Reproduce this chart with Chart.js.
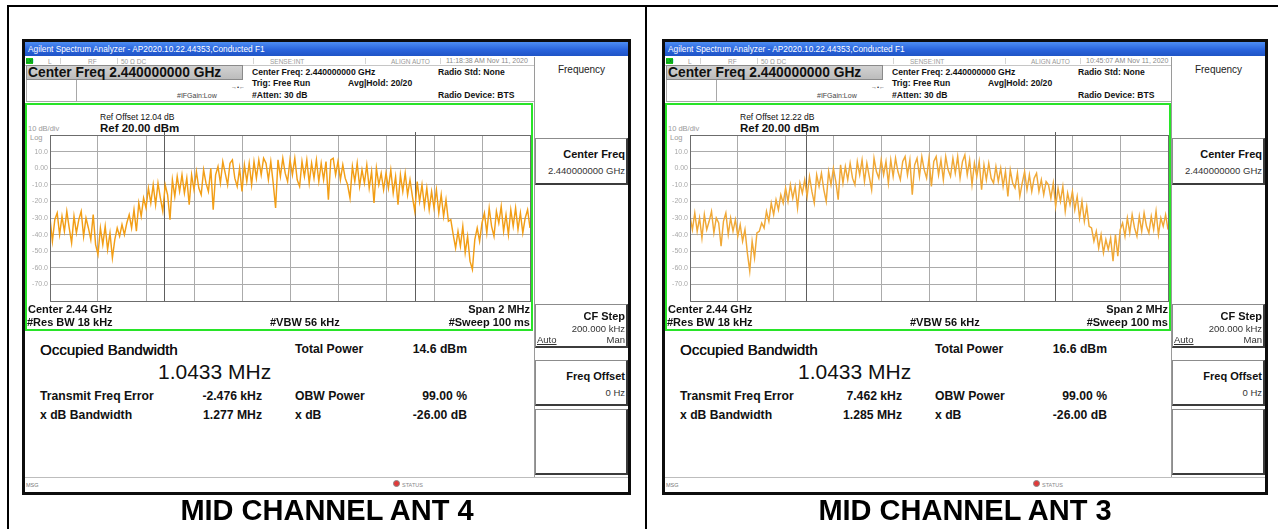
<!DOCTYPE html>
<html>
<head>
<meta charset="utf-8">
<script src="https://cdn.jsdelivr.net/npm/chart.js@4.4.0/dist/chart.umd.min.js"></script>
<style>
  html, body { margin: 0; padding: 0; background: #fff; }
  body { width: 1278px; height: 529px; position: relative; overflow: hidden;
         font-family: "Liberation Sans", Arial, sans-serif; color: #111; }
  .a { position: absolute; white-space: nowrap; }
  .scr { position: absolute; top: 39px; height: 456px; background: #fff; overflow: hidden; }
  .frame { position: absolute; left: 0; top: 0; right: 0; bottom: 0; border: 3px solid #0d0d0d; box-sizing: border-box; pointer-events: none; }
  .key { position: absolute; box-sizing: border-box; border: 1px solid #8c8c8c; border-right: 2px solid #3c3c3c; border-bottom: 2px solid #3c3c3c; background: #fff; }
</style>
</head>
<body>
<script>
// Sweep: centre 2.44 GHz, span 2 MHz, levels in dBm (ref 20 dBm, 10 dB/div)
const sweepStartMHz = -1;
const sweepStopMHz = 1;
const refLevelDbm = 20;
const bottomLevelDbm = -80;

const traceAnt4 = [
  -30, -44, -31, -27, -40, -29, -38, -26, -36, -45,
  -29, -39, -31, -26, -41, -30, -36, -43, -28, -46,
  -52, -36, -46, -35, -49, -39, -54, -43, -36, -41,
  -34, -40, -33, -28, -36, -25, -38, -21, -29, -18,
  -24, -12, -21, -10, -22, -9, -18, -26, -10, -16,
  -31, -7, -17, -5, -14, -4, -15, -6, -22, -4,
  -13, -2, -12, -16, -1, -9, -14, 0, -25, -4,
  1, -9, 4, -3, -10, 3, 5, -6, -11, 0,
  -14, 2, -8, 3, -10, 4, -6, 5, -4, 6,
  3, -7, 4, -9, -24, 5, -5, 6, -3, -8,
  5, -4, 6, -7, -11, 4, -5, 5, -9, 3,
  -6, 5, -8, 3, -7, 4, -19, 5, 6, -4,
  4, -7, 2, -6, -10, -18, 1, -8, 3, -11,
  -1, -9, 2, -12, -2, -21, 0, -10, -3, -13,
  -3, -12, -1, -15, -5, -22, -4, -14, -3, -16,
  -7, -17, -26, -8, -20, -10, -23, -12, -25, -14,
  -24, -13, -27, -16, -29, -19, -32, -31, -40, -48,
  -38, -47, -35, -51, -41, -56, -61, -43, -36, -44,
  -33, -27, -39, -24, -35, -41, -26, -33, -23, -38,
  -28, -40, -25, -35, -24, -37, -27, -39, -30, -25, -36
];

const traceAnt3 = [
  -29, -37, -27, -38, -30, -42, -28, -37, -32, -26,
  -39, -30, -33, -47, -32, -27, -40, -30, -38, -31,
  -41, -34, -44, -37, -51, -62, -44, -54, -39, -38,
  -33, -36, -26, -32, -21, -28, -19, -25, -16, -21,
  -12, -20, -10, -18, -11, -24, -9, -15, -7, -17,
  -5, -14, -21, -4, -11, -3, -13, -20, -2, -10,
  0, -8, -19, 2, -9, 1, -7, 3, -6, -10,
  4, -4, 5, -8, 3, -5, -13, 6, -2, -6,
  5, -4, 4, -9, 5, -5, 6, -2, -7, 4,
  7, -4, 5, -16, 2, 6, -5, 7, -1, -6,
  6, -11, 4, 7, -4, 5, -7, 7, -1, -5,
  6, -3, 7, -6, 4, 8, -4, 5, -10, 3,
  -5, 4, -13, 2, -7, 3, -6, -9, 1, -8,
  0, -11, -2, -17, -1, -9, -12, -3, -17, -9,
  -2, -13, -4, -14, -6, -3, -14, -7, -16, -8,
  -10, -18, -9, -23, -12, -20, -11, -26, -15, -22,
  -14, -25, -17, -30, -20, -32, -23, -35, -36, -44,
  -38, -48, -40, -51, -43, -49, -42, -56, -40, -53,
  -37, -33, -41, -30, -39, -28, -36, -41, -29, -38,
  -27, -35, -39, -29, -37, -26, -40, -30, -35, -28, -37
];

// Measurement results for each screen (ANT 4, ANT 3)
const captions = ['MID CHANNEL ANT 4', 'MID CHANNEL ANT 3'];
const timestamps = ['11:18:38 AM Nov 11, 2020', '10:45:07 AM Nov 11, 2020'];
const refOffsetDb = [12.04, 12.22];
const totalPowerDbm = [14.6, 16.6];
const obwMHz = [1.0433, 1.0433];
const freqErrorKHz = [-2.476, 7.462];
const xdbBandwidthMHz = [1.277, 1.285];
const obwPowerPct = [99.00, 99.00];
const xdbLevel = [-26.00, -26.00];
const traceColors = ['#f29e16', '#f0a836'];

const FONT = '"Liberation Sans", Arial, sans-serif';

function box(parent, x, y, w, h, css) {
  const d = document.createElement('div');
  d.className = 'a';
  d.style.left = x + 'px'; d.style.top = y + 'px';
  d.style.width = w + 'px'; d.style.height = h + 'px';
  if (css) Object.assign(d.style, css);
  parent.appendChild(d);
  return d;
}

function txt(parent, s, x, cy, size, opt) {
  opt = opt || {};
  const d = document.createElement('div');
  d.className = 'a';
  d.textContent = s;
  d.style.font = (opt.bold ? 'bold ' : '') + size + 'px ' + FONT;
  const lh = Math.ceil(size * 1.3);
  d.style.lineHeight = lh + 'px';
  d.style.left = x + 'px';
  d.style.top = (cy - lh / 2) + 'px';
  d.style.color = opt.color || '#111';
  if (opt.align === 'r') d.style.transform = 'translateX(-100%)';
  if (opt.align === 'c') d.style.transform = 'translateX(-50%)';
  if (opt.underline) d.style.textDecoration = 'underline';
  if (opt.heavy) d.style.textShadow = '0.35px 0 0 #111';
  parent.appendChild(d);
  return d;
}

function makeChart(canvas, levels, errKHz, obw, color) {
  const n = levels.length;
  const pts = levels.map((v, i) => ({ x: sweepStartMHz + i * (sweepStopMHz - sweepStartMHz) / (n - 1), y: v }));
  // occupied-bandwidth edge markers and the graticule outline
  const markers = {
    id: 'obwMarkers',
    beforeDatasetsDraw(c) {
      const xs = c.scales.x, a = c.chartArea, ctx = c.ctx;
      const cf = errKHz / 1000;
      [cf - obw / 2, cf + obw / 2].forEach(f => {
        const px = Math.round(xs.getPixelForValue(f)) + 0.5;
        ctx.save();
        ctx.strokeStyle = '#5e5e5e';
        ctx.lineWidth = 1;
        ctx.beginPath();
        ctx.moveTo(px, a.top - 3);
        ctx.lineTo(px, a.bottom);
        ctx.stroke();
        ctx.restore();
      });
    },
    afterDraw(c) {
      const a = c.chartArea, ctx = c.ctx;
      ctx.save();
      ctx.strokeStyle = '#6c6c6c';
      ctx.lineWidth = 1;
      ctx.strokeRect(Math.round(a.left) + 0.5, Math.round(a.top) + 0.5,
                     Math.round(a.right - a.left), Math.round(a.bottom - a.top));
      ctx.restore();
    }
  };
  return new Chart(canvas, {
    type: 'line',
    data: { datasets: [{ data: pts, borderColor: color, borderWidth: 1.45, pointRadius: 0, tension: 0, fill: false }] },
    options: {
      responsive: false, animation: false, events: [],
      layout: { padding: { left: 0, right: 2, top: 5, bottom: 5 } },
      plugins: { legend: { display: false }, tooltip: { enabled: false } },
      scales: {
        x: {
          type: 'linear', min: sweepStartMHz, max: sweepStopMHz,
          ticks: { display: false, stepSize: 0.2 },
          grid: { color: '#ababab', drawTicks: false },
          border: { display: false },
          afterFit(s) { s.height = 0; s.paddingLeft = 0; s.paddingRight = 0; }
        },
        y: {
          min: bottomLevelDbm, max: refLevelDbm,
          ticks: {
            stepSize: 10, padding: 2, color: '#a9a9a9',
            font: { size: 7, family: FONT },
            callback: v => (v === refLevelDbm || v === bottomLevelDbm) ? '' : (v === 0 ? '0.00' : v.toFixed(1))
          },
          grid: { color: '#ababab', drawTicks: false },
          border: { display: false },
          afterFit(s) { s.width = 24; s.paddingTop = 0; s.paddingBottom = 0; }
        }
      }
    },
    plugins: [markers]
  });
}

function buildScreen(k, left, W, pw) {
  const s = document.createElement('div');
  s.className = 'scr';
  s.style.left = left + 'px';
  s.style.width = W + 'px';
  if (k === 1) s.style.filter = 'blur(0.3px)';
  document.body.appendChild(s);
  const R = 28 + pw;          // right edge of the graticule
  const K = 512 + (W - 609);  // softkey column start

  // title bar
  box(s, 3, 3, W - 6, 14, { background: 'linear-gradient(#4d8df2, #2a64dc 55%, #1f54c6)' });
  txt(s, 'Agilent Spectrum Analyzer - AP2020.10.22.44353,Conducted F1', 6, 10, 8.3, { color: '#fff' });

  // instrument status row
  box(s, 3, 18, K - 3, 8, { borderBottom: '1px solid #c6c6c6' });
  box(s, 4, 19, 7, 6, { background: '#16c416' });
  txt(s, 'LXI', 4, 22, 5, { color: '#063' });
  [38, 95, 231, 343, 418].forEach(x => box(s, x, 19, 1, 6, { background: '#d4d4d4' }));
  txt(s, 'L', 26, 22, 6.5, { color: '#9a9a9a' });
  txt(s, 'RF', 66, 22, 6.5, { color: '#9a9a9a' });
  txt(s, '50 Ω   DC', 99, 22, 6.5, { color: '#9a9a9a' });
  txt(s, 'SENSE:INT', 248, 22, 6.5, { color: '#9a9a9a' });
  txt(s, 'ALIGN AUTO', 369, 22, 6.5, { color: '#9a9a9a' });
  txt(s, timestamps[k], 424, 22, 7, { color: '#8a8a8a' });

  // active function header
  box(s, 4, 26, 217, 15, { background: 'linear-gradient(#d2d2d2, #bcbcbc)', border: '1px solid #8a8a8a', boxSizing: 'border-box' });
  txt(s, 'Center Freq 2.440000000 GHz', 6, 34, 13.8, { bold: true });
  box(s, 4, 41, 51, 22, { border: '1px solid #a8a8a8', borderTop: 'none', boxSizing: 'border-box' });
  box(s, 55, 62, K - 55, 1, { background: '#b0b0b0' });
  txt(s, '#IFGain:Low', 155, 57, 7, { color: '#444' });
  txt(s, '→•←', 209, 48, 6, { color: '#333' });
  txt(s, 'Center Freq: 2.440000000 GHz', 230, 33, 8.6, { bold: true });
  txt(s, 'Trig: Free Run', 230, 44, 8.6, { bold: true });
  txt(s, 'Avg|Hold: 20/20', 326, 44, 8.6, { bold: true });
  txt(s, '#Atten: 30 dB', 230, 56, 8.6, { bold: true });
  txt(s, 'Radio Std: None', 416, 33, 8.6, { bold: true });
  txt(s, 'Radio Device: BTS', 416, 56, 8.6, { bold: true });

  // graticule window
  box(s, 3, 64, pw + 28, 228, { border: '2px solid #28e428', boxSizing: 'border-box' });
  txt(s, 'Ref Offset ' + refOffsetDb[k].toFixed(2) + ' dB', 78, 78, 8.5);
  txt(s, 'Ref 20.00 dBm', 78, 89, 11.5, { bold: true });
  txt(s, '10 dB/div', 6, 90, 7.5, { color: '#9a9a9a' });
  txt(s, 'Log', 8, 99, 7.5, { color: '#9a9a9a' });

  const cv = document.createElement('canvas');
  const cw = 24 + pw + 2, ch = 176;
  cv.width = cw; cv.height = ch;
  cv.style.position = 'absolute';
  cv.style.left = '4px'; cv.style.top = '91px';
  cv.style.width = cw + 'px'; cv.style.height = ch + 'px';
  s.appendChild(cv);
  makeChart(cv, k === 0 ? traceAnt4 : traceAnt3, freqErrorKHz[k], obwMHz[k], traceColors[k]);

  txt(s, 'Center  2.44 GHz', 6, 270, 11, { bold: true });
  txt(s, 'Span 2 MHz', R, 270, 11, { bold: true, align: 'r' });
  txt(s, '#Res BW  18 kHz', 5, 283, 11, { bold: true });
  txt(s, '#VBW  56 kHz', 248, 283, 11, { bold: true });
  txt(s, '#Sweep  100 ms', R, 283, 11, { bold: true, align: 'r' });

  // results table
  txt(s, 'Occupied Bandwidth', 18, 311, 15, { heavy: true });
  txt(s, obwMHz[k].toFixed(4) + ' MHz', 136, 333, 21);
  txt(s, 'Total Power', 273, 310, 12.2, { bold: true });
  txt(s, totalPowerDbm[k].toFixed(1) + ' dBm', 445, 310, 12.2, { bold: true, align: 'r' });
  txt(s, 'Transmit Freq Error', 18, 357, 12.2, { bold: true });
  txt(s, freqErrorKHz[k].toFixed(3) + ' kHz', 240, 357, 12.2, { bold: true, align: 'r' });
  txt(s, 'OBW Power', 273, 357, 12.2, { bold: true });
  txt(s, obwPowerPct[k].toFixed(2) + ' %', 445, 357, 12.2, { bold: true, align: 'r' });
  txt(s, 'x dB Bandwidth', 18, 376, 12.2, { bold: true });
  txt(s, xdbBandwidthMHz[k].toFixed(3) + ' MHz', 240, 376, 12.2, { bold: true, align: 'r' });
  txt(s, 'x dB', 273, 376, 12.2, { bold: true });
  txt(s, xdbLevel[k].toFixed(2) + ' dB', 445, 376, 12.2, { bold: true, align: 'r' });

  // message / status bar
  box(s, 3, 438, W - 6, 1, { background: '#bdbdbd' });
  txt(s, 'MSG', 4, 446, 5.5, { color: '#777' });
  box(s, 371, 441, 7, 7, { borderRadius: '50%', background: '#e23a3a', border: '1px solid #888', boxSizing: 'border-box' });
  txt(s, 'STATUS', 380, 446, 5.5, { color: '#888' });

  // softkey menu
  box(s, K, 18, 1, 420, { background: '#9a9a9a' });
  const kw = W - 3 - K - 1;
  txt(s, 'Frequency', K + 1 + kw / 2, 30, 10, { align: 'c', color: '#222' });
  box(s, K + 1, 99, kw, 47, {}).className = 'a key';
  txt(s, 'Center Freq', W - 6, 115, 11, { bold: true, align: 'r' });
  txt(s, '2.440000000 GHz', W - 6, 131, 9.5, { align: 'r', color: '#333' });
  box(s, K + 1, 265, kw, 44, {}).className = 'a key';
  txt(s, 'CF Step', W - 6, 277, 11, { bold: true, align: 'r' });
  txt(s, '200.000 kHz', W - 6, 289, 9.5, { align: 'r', color: '#333' });
  txt(s, 'Auto', K + 3, 300, 9.5, { underline: true, color: '#333' });
  txt(s, 'Man', W - 6, 300, 9.5, { align: 'r', color: '#333' });
  box(s, K + 1, 321, kw, 46, {}).className = 'a key';
  txt(s, 'Freq Offset', W - 6, 337, 11, { bold: true, align: 'r' });
  txt(s, '0 Hz', W - 6, 353, 9.5, { align: 'r', color: '#333' });
  box(s, K + 1, 370, kw, 66, {}).className = 'a key';

  const fr = document.createElement('div');
  fr.className = 'frame';
  s.appendChild(fr);
}

// table rules
box(document.body, 7, 5, 1271, 2, { background: '#000' });
box(document.body, 7, 5, 2, 524, { background: '#000' });
box(document.body, 645, 5, 2, 524, { background: '#000' });

buildScreen(0, 22, 609, 480);
buildScreen(1, 662, 606, 478);

captions.forEach((c, i) => {
  const d = box(document.body, i === 0 ? 9 : 647, 496, 636, 29, {});
  d.textContent = c;
  d.style.font = 'bold 29px ' + FONT;
  d.style.lineHeight = '29px';
  d.style.textAlign = 'center';
  d.style.color = '#000';
});
</script>
</body>
</html>
